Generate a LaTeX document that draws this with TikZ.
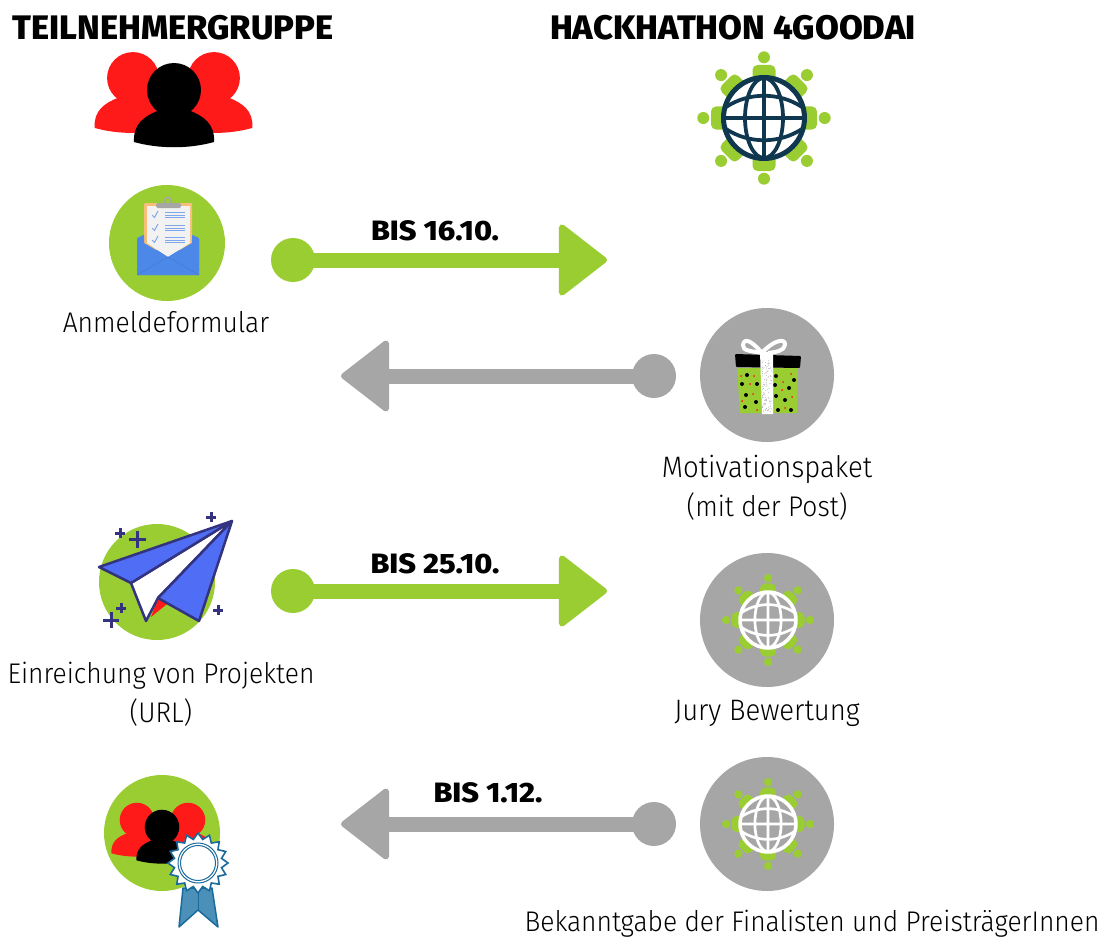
\documentclass[tikz,border=0pt]{standalone}
\usepackage{fontspec}
\setmainfont{Fira Sans Light}[FakeStretch=0.93]
\newfontfamily\headfont{Fira Sans ExtraBold}[FakeStretch=1.015]
\newfontfamily\whenfont{Fira Sans ExtraBold}[FakeStretch=1.09]
\usetikzlibrary{arrows.meta}
\definecolor{lgreen}{HTML}{9ACD32}
\definecolor{lgrey}{HTML}{A6A6A6}
\definecolor{lred}{HTML}{FF1A1A}
\definecolor{navy}{HTML}{0F3850}
\definecolor{planeblue}{HTML}{4F6DF5}
\definecolor{planeline}{HTML}{33337F}
\definecolor{mailblue}{HTML}{4C88E8}
\definecolor{linkblue}{HTML}{7FA8EC}
\definecolor{rosette}{HTML}{1B6A9C}
\definecolor{ribbon}{HTML}{4A90B8}
\definecolor{boardedge}{HTML}{F7BE7A}
\tikzset{
  dotgreen/.style={circle,fill=lgreen,minimum size=44pt,inner sep=0pt},
  dotgrey/.style={circle,fill=lgrey,minimum size=44pt,inner sep=0pt},
  conn/.style={line width=15pt,-{Triangle[length=50pt,width=76pt,round,line width=6pt]}},
  head/.style={font=\headfont\fontsize{34}{38}\selectfont,inner sep=0pt},
  when/.style={font=\whenfont\fontsize{28}{32}\selectfont,inner sep=0pt},
  lab/.style={font=\fontsize{28.4}{32}\selectfont,inner sep=0pt},
  labwide/.style={font=\fontsize{29.6}{32}\selectfont,inner sep=0pt},
  plusmark/.style={draw=planeline,line width=3pt},
  person/.pic={
    \fill[pic actions] (0,0) circle[radius=27pt];
    \fill[pic actions] (-40,52) .. controls (-41,34) and (-30,26) .. (-14,20) -- (14,20)
       .. controls (30,26) and (41,34) .. (40,52) .. controls (15,59) and (-15,59) .. (-40,52) -- cycle;
  }
}
\newcommand{\globeicon}[6]{% x y scale ring fill width
  \begin{scope}[shift={(#1,#2)},scale=#3]
    \foreach \a in {0,45,...,315}{
      \begin{scope}[rotate=\a]
        \fill[lgreen] (0,-60.7) circle[radius=6pt];
        \fill[lgreen,rounded corners=5pt] (-11.5,-53) rectangle (11.5,-25);
      \end{scope}}
    \fill[#5] (0,0) circle[radius=40.5pt];
    \draw[#4,line width=#6pt] (0,0) circle[radius=40.5pt];
    \draw[#4,line width=0.75*#6pt]
      (0,-40) -- (0,40) (-40,0) -- (40,0)
      (0,0) ellipse[x radius=19pt,y radius=40pt]
      (-38,-11) .. controls (-15,-26) and (15,-26) .. (38,-11)
      (-38,11) .. controls (-15,26) and (15,26) .. (38,11);
  \end{scope}}
\begin{document}
\begin{tikzpicture}[x=1pt,y=-1pt]
\useasboundingbox (0,0) rectangle (1107,939);
\fill[white] (0,0) rectangle (1107,939);

% Headings
\node[head] (h1) at (173,28) {TEILNEHMERGRUPPE};
\node[head] (h2) at (733,28) {HACKHATHON 4GOODAI};
\pic[fill=lred,scale=.96] at (133,78) {person};
\pic[fill=lred,scale=.96] at (214,78) {person};
\pic[fill=black] at (174,90) {person};
\globeicon{764}{118}{1}{navy}{white}{5}

% Mail icon
\fill[lgreen] (167,243) circle[radius=58pt];
\fill[mailblue,rounded corners=1pt] (137,238) -- (150,232) -- (186,232) -- (199,238) -- (199,275) -- (137,275) -- cycle;
\fill[boardedge,rounded corners=1pt] (144,203) rectangle (192,250);
\fill[gray!10] (147,206) -- (190,206) -- (190,243) -- (168,257) -- (147,243) -- cycle;
\fill[mailblue] (137,239) -- (144,236) -- (144,243) -- (168,257) -- (192,243) -- (192,236) -- (199,239) -- (199,275) -- (137,275) -- cycle;
\draw[mailblue!85!black,line width=.3pt] (137,275) -- (168,257) -- (199,275);
\fill[lgrey,rounded corners=1.5pt] (156,203) rectangle (181,208);
\draw[lgrey,line width=1.5pt] (168,201) circle[radius=3.5pt];
\foreach \y in {215,228,240}{
  \draw[linkblue,line width=1pt] (152,\y) -- (154.5,\y+2.5) -- (158,\y-4);
  \draw[linkblue,line width=.9pt] (165,\y-2.5) -- (185,\y-2.5) (165,\y) -- (185,\y) (165,\y+2.5) -- (185,\y+2.5);
}
\node[lab] (l1) at (166,322) {Anmeldeformular};

% Row 1 connector
\node[dotgreen] (d1) at (293,260) {};
\coordinate (t1) at (607,260);
\draw[conn,lgreen] (d1.center) -- (t1);
\node[when] (w1) at (435,231) {BIS 16.10.};

% Gift
\node[circle,fill=lgrey,minimum size=134pt,inner sep=0pt] (gc) at (767,375) {};
\fill[lgreen] (737,368) -- (798,368) -- (797,413) -- (740,413) -- cycle;
\foreach \p in {(747,375),(742,384),(757,384),(746,395),(756,402),(745,407),(776,376),(794,380),(789,388),(776,396),(785,400),(791,410),(778,410),(775,385)}
  \fill[black] \p circle[radius=2pt];
\foreach \p in {(741,376),(750,384),(754,376),(753,394),(742,401),(757,410),(791,374),(783,382),(782,390),(792,397),(785,408)}
  \fill[lred] \p circle[radius=1pt];
\fill[black,rounded corners=1pt] (735,354) -- (801,356) -- (800,368) -- (736,367) -- cycle;
\draw[white,line width=4pt,line join=round] (762,353) .. controls (752,341) and (744,337) .. (743,345) .. controls (742,351) and (752,351) .. (762,353)
   .. controls (772,341) and (786,337) .. (785,345) .. controls (784,351) and (776,352) .. (768,353);
\fill[white] (760,352) -- (773,352) -- (773,414) -- (762,414) -- cycle;
\pgfmathsetseed{7}
\foreach \i in {1,...,110}{
  \pgfmathsetmacro{\px}{762+rnd*10}
  \pgfmathsetmacro{\py}{360+rnd*52}
  \fill[gray!70] (\px,\py) circle[radius=.45pt];
}
\node[labwide] (l2) at (767,469) {Motivationspaket};
\node[lab] (l2b) at (767,507) {(mit der Post)};

% Row 2 connector
\node[dotgrey] (d2) at (654,376) {};
\coordinate (t2) at (341,376);
\draw[conn,lgrey] (d2.center) -- (t2);

% Plane
\fill[lgreen] (157,582) circle[radius=58pt];
\begin{scope}[line join=round]
\fill[lred] (158,598) -- (167,604) -- (151,617) -- cycle;
\filldraw[fill=white,draw=planeline,line width=2.5pt] (232,521) -- (131,583) -- (146,621) -- (158,598) -- cycle;
\filldraw[fill=planeblue,draw=planeline,line width=2.5pt] (232,521) -- (99,567) -- (131,583) -- cycle;
\filldraw[fill=planeblue,draw=planeline,line width=2.5pt] (232,521) -- (158,598) -- (199,621) -- cycle;
\end{scope}
\draw[plusmark] (206,517) -- (216,517) (211,512) -- (211,522);
\draw[plusmark] (115,533) -- (125,533) (120,528) -- (120,538);
\draw[plusmark] (129,539) -- (146,539) (137.5,531) -- (137.5,548);
\draw[plusmark] (116,608) -- (126,608) (121,603) -- (121,613);
\draw[plusmark] (103,620) -- (119,620) (111,612) -- (111,628);
\draw[plusmark] (213,610) -- (223,610) (218,605) -- (218,615);
\node[lab] (l3) at (161,676) {Einreichung von Projekten};
\node[lab] (l3b) at (161,713) {(URL)};

% Row 3 connector
\node[dotgreen] (d3) at (293,591) {};
\coordinate (t3) at (607,591);
\draw[conn,lgreen] (d3.center) -- (t3);
\node[when] (w3) at (435,564) {BIS 25.10.};

% Jury
\node[circle,fill=lgrey,minimum size=134pt,inner sep=0pt] (gj) at (767,620) {};
\globeicon{768}{620}{.69}{white}{lgrey}{3.6}
\node[labwide] (l4) at (767,713) {Jury Bewertung};

% Finalists
\node[circle,fill=lgrey,minimum size=134pt,inner sep=0pt] (gf) at (767,824) {};
\globeicon{768}{824}{.69}{white}{lgrey}{3.6}
\node[lab] (l5) at (812,924) {Bekanntgabe der Finalisten und PreisträgerInnen};

% Row 4 connector
\node[dotgrey] (d4) at (654,824) {};
\coordinate (t4) at (341,824);
\draw[conn,lgrey] (d4.center) -- (t4);
\node[when] (w4) at (488,793) {BIS 1.12.};

% Award
\fill[lgreen] (162,833) circle[radius=58pt];
\pic[fill=lred,scale=.64] at (137,820) {person};
\pic[fill=lred,scale=.64] at (188,820) {person};
\pic[fill=black,scale=.64] at (162,827) {person};
\filldraw[fill=ribbon,draw=rosette,line width=1.5pt,line join=round] (183,888) -- (179,927) -- (198,910) -- (218,927) -- (212,888) -- cycle;
\draw[rosette,line width=1pt] (198,890) -- (198,910);
\filldraw[fill=white,draw=rosette,line width=1.6pt,line join=miter]
  (198,833)
  \foreach \i in {1,...,31}{
    -- ({198+sin(\i*11.25)*(mod(\i,2)==1 ? 24 : 30)},{863-cos(\i*11.25)*(mod(\i,2)==1 ? 24 : 30)})
  } -- cycle;
\draw[rosette,line width=1pt] (198,863) circle[radius=20pt] (198,863) circle[radius=17.5pt];
\end{tikzpicture}
\end{document}
